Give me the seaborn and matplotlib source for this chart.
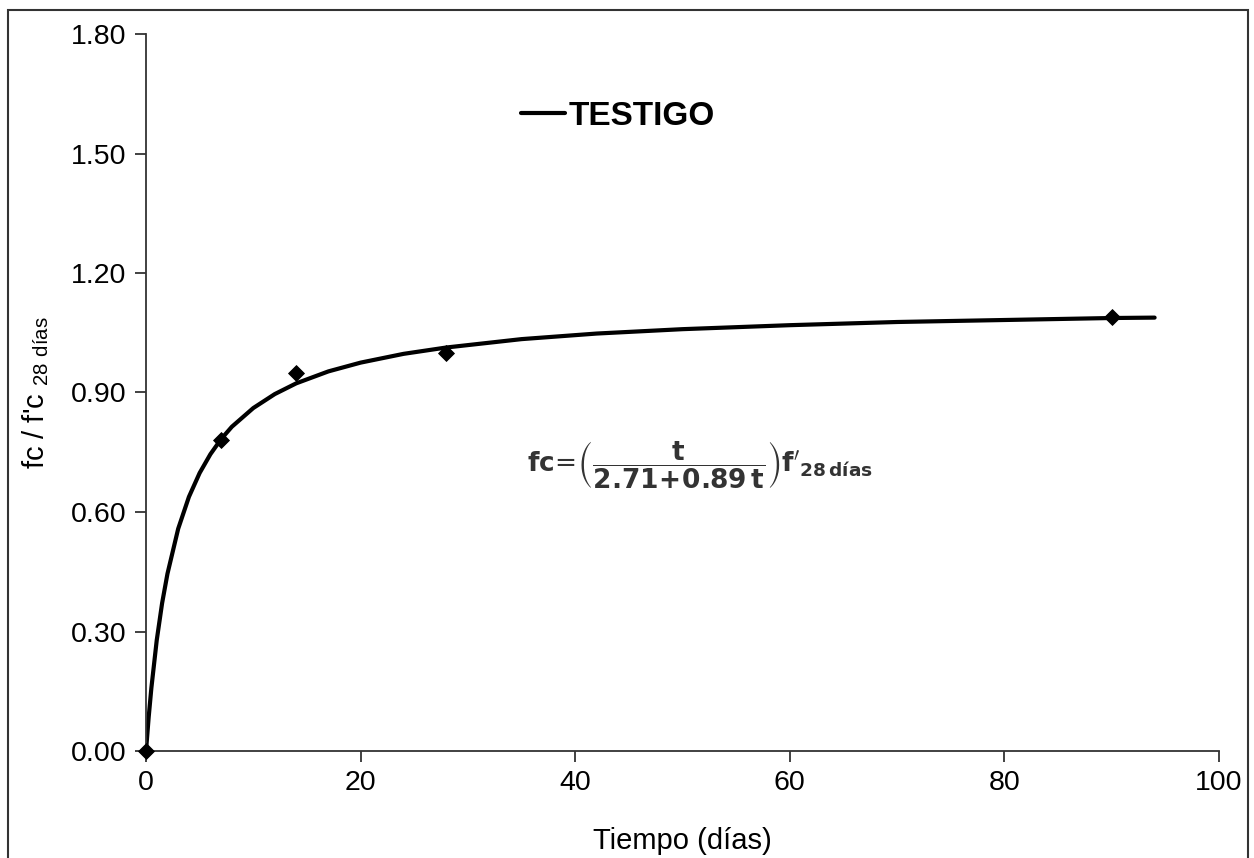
import matplotlib
matplotlib.use("Agg")
import matplotlib.pyplot as plt
import seaborn as sns
import pandas as pd
from matplotlib.patches import Rectangle

# Measured points (días, fc/f'c28)
obs_t = [0, 7, 14, 28, 90]
obs_y = [0.00, 0.78, 0.95, 1.00, 1.09]

# Fitted curve
curve_t = [0, 0.25, 0.5, 1, 1.5, 2, 3, 4, 5, 6, 7, 8, 10, 12, 14, 17, 20, 24, 28,
           35, 42, 50, 60, 70, 80, 90, 94]
curve_y = [0.000, 0.085, 0.158, 0.278, 0.371, 0.445, 0.558, 0.638, 0.698, 0.745,
           0.783, 0.814, 0.861, 0.896, 0.923, 0.953, 0.975, 0.997, 1.013,
           1.034, 1.048, 1.059, 1.069, 1.077, 1.082, 1.087, 1.088]

y_ticks = [0.00, 0.30, 0.60, 0.90, 1.20, 1.50, 1.80]
x_ticks = [0, 20, 40, 60, 80, 100]
series_name = "TESTIGO"

sns.set_style("ticks")
plt.rcParams['font.family'] = ['Liberation Sans', 'DejaVu Sans']
plt.rcParams['text.color'] = 'black'
plt.rcParams['axes.labelcolor'] = 'black'
plt.rcParams['xtick.color'] = 'black'
plt.rcParams['ytick.color'] = 'black'

fig = plt.figure(figsize=(12.54, 8.58), dpi=100)
ax = fig.add_axes([146/1254, 1-751/858, (1219-146)/1254, (751-34)/858])

df_curve = pd.DataFrame({"t": curve_t, "y": curve_y})
df_obs = pd.DataFrame({"t": obs_t, "y": obs_y})

sns.lineplot(data=df_curve, x="t", y="y", ax=ax, color="black", linewidth=3,
             label=series_name, sort=True, estimator=None)
sns.scatterplot(data=df_obs, x="t", y="y", ax=ax, color="black", marker="D",
                s=65, edgecolor="black", zorder=5, legend=False, clip_on=False)

ax.set_xlim(0, 100)
ax.set_ylim(0, 1.8)
ax.set_xticks(x_ticks)
ax.set_xticklabels([str(v) for v in x_ticks])
ax.set_yticks(y_ticks)
ax.set_yticklabels([f"{v:.2f}" for v in y_ticks])
ax.tick_params(axis='both', labelsize=20.5, direction='out', length=8, width=1.3,
               color='#333333', labelcolor='black', pad=6)
for s in ["top", "right"]:
    ax.spines[s].set_visible(False)
for s in ["left", "bottom"]:
    ax.spines[s].set_linewidth(1.3)
    ax.spines[s].set_color('#333333')

ax.set_xlabel("Tiempo (días)", fontsize=21, labelpad=22, color='black')
ax.set_ylabel(r"fc / f'c $_{\mathregular{28\ días}}$", fontsize=21, labelpad=14,
              color='black')

leg = ax.legend(loc="center", bbox_to_anchor=(0.44, 0.885), frameon=False,
                prop={'size': 24, 'weight': 'bold'}, handlelength=1.3,
                handletextpad=0.12)
for txt in leg.get_texts():
    txt.set_color('black')

ax.text(51.6, 0.718,
        r"$\mathbf{fc}\!=\!\left(\dfrac{\mathbf{t}}{\mathbf{2.71\!+\!0.89}\,\mathbf{t}}\right)\mathbf{f'}_{\mathbf{28\,días}}$",
        fontsize=19, color="#333333", ha="center", va="center")

fig.patches.append(Rectangle((8/1254, -0.01), (1248-8)/1254, 1-10/858 + 0.01,
                             transform=fig.transFigure, fill=False,
                             edgecolor='#333333', linewidth=1.5))

fig.savefig("out.png", dpi=100, facecolor="white")
